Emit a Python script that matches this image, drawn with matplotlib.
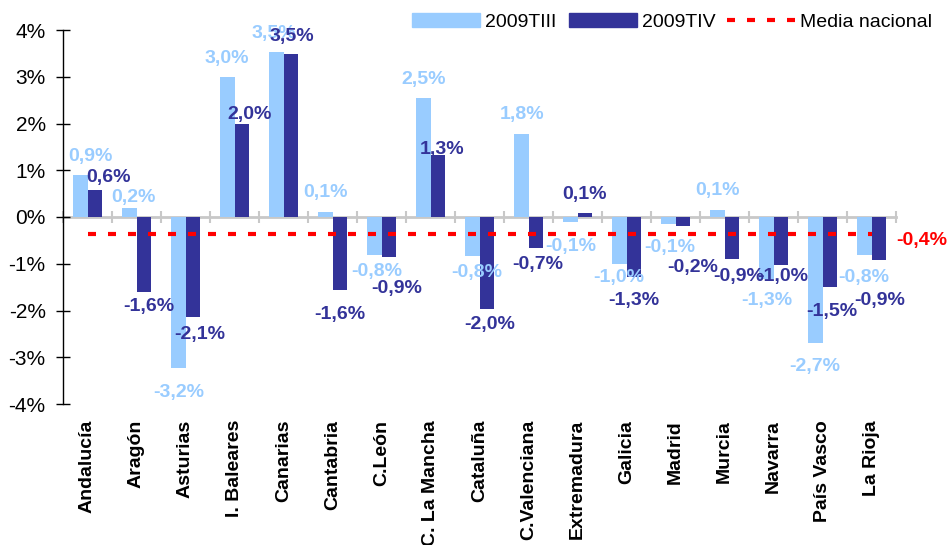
import numpy as np
import matplotlib
matplotlib.use("Agg")
import matplotlib.pyplot as plt
from matplotlib.patches import Patch
from matplotlib.lines import Line2D
from matplotlib.ticker import FuncFormatter
import matplotlib.transforms as mtransforms

plt.rcParams['font.family'] = ['Liberation Sans', 'DejaVu Sans']

# ---- data ----
categories = ["Andalucía", "Aragón", "Asturias", "I. Baleares", "Canarias", "Cantabria",
              "C.León", "C. La Mancha", "Cataluña", "C.Valenciana", "Extremadura",
              "Galicia", "Madrid", "Murcia", "Navarra", "País Vasco", "La Rioja"]
t3_values = [0.9, 0.19, -3.22, 2.99, 3.54, 0.1, -0.81, 2.54, -0.84, 1.78, -0.1,
             -1.0, -0.14, 0.14, -1.33, -2.69, -0.81]
t4_values = [0.58, -1.6, -2.13, 1.99, 3.48, -1.56, -0.86, 1.32, -1.96, -0.67, 0.08,
             -1.28, -0.19, -0.89, -1.02, -1.49, -0.92]
media_nacional = -0.36
media_label = "-0,4%"
series_names = ["2009TIII", "2009TIV", "Media nacional"]
yticks = [-4, -3, -2, -1, 0, 1, 2, 3, 4]

# ---- style: label placement (pixels), as placed in the original ----
t3_label_dx = [10.5, 4, 1, 0, -2, 0, 2.5, 0, 5, 1, 1, 0, 1.5, 0, 1, 0, 0]
t3_label_gap = [14, 6, 15, 14, 14, 15, 7, 14, 6, 15, 15, 4, 14, 15, 11, 14, 13]
t4_label_dx = [14, 5, 7, 8, 1, 0, 7.5, 4, 2.5, 1.5, 0, 0, 9.5, 6.5, 2, 1.5, 1]
t4_label_gap = [8, 5, 8, 5, 13, 15, 21, 1, 6, 6, 14, 14, 32, 8, 2, 15, 30]

LIGHT = "#99CCFF"
DARK = "#333399"
RED = "#FF0000"
GRAY = "#C8C8C8"
FS = 14
PX = 0.72  # points per pixel at 100 dpi

fig = plt.figure(figsize=(9.47, 5.45), dpi=100)
W, H = 947, 545
ax = fig.add_axes([63 / W, 1 - 404 / H, (896 - 63) / W, (404 - 30) / H])

n = len(categories)
x = np.arange(n)
bw = 0.3
ax.bar(x - bw / 2, t3_values, width=bw, color=LIGHT, zorder=2)
ax.bar(x + bw / 2, t4_values, width=bw, color=DARK, zorder=2)

# media nacional line
ax.plot(x, [media_nacional] * n, color=RED, lw=3, linestyle=(0, (1.92, 2.88)), zorder=4)
trans = mtransforms.blended_transform_factory(ax.transAxes, ax.transData)
ax.annotate(media_label, xy=(1.0, media_nacional), xycoords=trans,
            xytext=(0, -5), textcoords='offset points', ha='left', va='center',
            color=RED, fontsize=FS, fontweight='bold', annotation_clip=False)

def fmt(v):
    return f"{v:.1f}".replace('.', ',') + "%"

for series, off, col, k, dxs, gaps in ((t3_values, -bw / 2, LIGHT, 0, t3_label_dx, t3_label_gap),
                                       (t4_values, bw / 2, DARK, 1, t4_label_dx, t4_label_gap)):
    for i, v in enumerate(series):
        dx = dxs[i] * PX
        if v >= 0:
            ax.annotate(fmt(v), xy=(i + off, v), xytext=(dx, gaps[i] * PX),
                        textcoords='offset points', ha='center', va='baseline',
                        color=col, fontsize=FS, fontweight='bold', zorder=5 + k,
                        annotation_clip=False)
        else:
            ax.annotate(fmt(v), xy=(i + off, v), xytext=(dx, -(gaps[i] + 1.5) * PX),
                        textcoords='offset points', ha='center', va='top',
                        color=col, fontsize=FS, fontweight='bold', zorder=5 + k,
                        annotation_clip=False)

ax.set_xlim(-0.5, n - 0.5)
ax.set_ylim(yticks[0], yticks[-1])
ax.set_yticks(yticks)
ax.yaxis.set_major_formatter(FuncFormatter(lambda v, p: f"{v:.0f}%"))
ax.tick_params(axis='y', direction='inout', length=10, width=1, color='black',
               labelsize=15, pad=7.5)
for s in ('top', 'right', 'bottom'):
    ax.spines[s].set_visible(False)
ax.spines['left'].set_linewidth(1)

ax.set_xticks(x)
ax.set_xticklabels(categories, rotation=90, fontweight='bold', fontsize=FS)
ax.tick_params(axis='x', length=0, pad=11.5)

# zero axis with category separators
sec = ax.secondary_xaxis(0.5)
sec.set_xticks(np.arange(-0.5, n, 1.0))
sec.tick_params(axis='x', direction='inout', length=9, width=1.5, color=GRAY,
                labeltop=False, labelbottom=False)
for s in ('top', 'bottom'):
    sec.spines[s].set_color(GRAY)
    sec.spines[s].set_linewidth(2)

handles = [Patch(color=LIGHT), Patch(color=DARK),
           Line2D([], [], color=RED, lw=3, linestyle=(0, (1.92, 2.88)))]
fig.legend(handles, series_names, loc='center left', bbox_to_anchor=(412 / W, 1 - 22 / H),
           ncol=3, frameon=False, fontsize=FS, handlelength=3.5, handleheight=0.67,
           handletextpad=0.26, columnspacing=0.62, borderpad=0, borderaxespad=0)

fig.savefig("out.png", dpi=100)
